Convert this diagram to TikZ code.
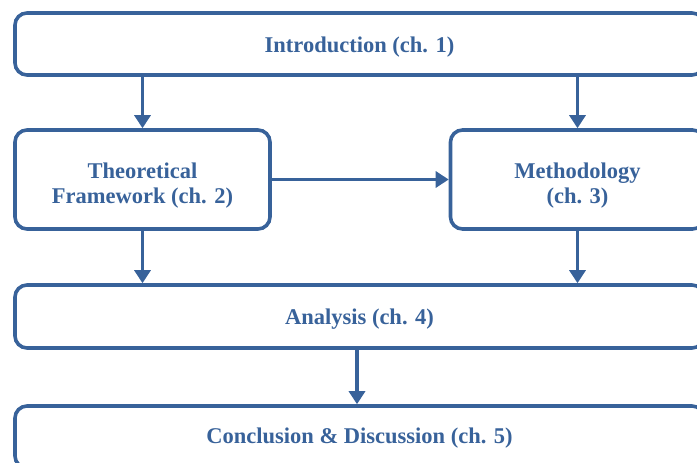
\documentclass[tikz,border=0pt]{standalone}
\usepackage{fontspec}
\setmainfont{Liberation Serif}
\usetikzlibrary{arrows.meta}
\definecolor{wblue}{HTML}{38629A}
\tikzset{
  box/.style={draw=wblue, line width=3.6pt, rounded corners=12pt, inner sep=0pt},
  boxtext/.style={text=wblue, font=\fontsize{22.5pt}{25pt}\selectfont\bfseries, align=center, inner sep=0pt},
  arr/.style={draw=wblue, line width=3.6pt, -{Triangle[length=13pt,width=16pt]}}
}
\begin{document}
\begin{tikzpicture}[x=1pt,y=-1pt]
\useasboundingbox (0,0) rectangle (697,463);
\node[box, minimum width=689pt, minimum height=62pt] (intro) at (359.5,44) {};
\node[box, minimum width=255pt, minimum height=99pt] (theo) at (142.5,179.5) {};
\node[box, minimum width=254pt, minimum height=99pt] (meth) at (577.5,179.5) {};
\node[box, minimum width=689pt, minimum height=63pt] (ana) at (359.5,316.5) {};
\node[box, minimum width=689pt, minimum height=62pt] (conc) at (359.5,437) {};
\node[boxtext] (introtext) at ([yshift=-3pt]intro.center) {Introduction (ch. 1)};
\node[boxtext] (theotext) at ([yshift=-6pt]theo.center) {Theoretical\\Framework (ch. 2)};
\node[boxtext] (methtext) at ([yshift=-6pt]meth.center) {Methodology\\(ch. 3)};
\node[boxtext] (anatext) at ([yshift=-3pt]ana.center) {Analysis (ch. 4)};
\node[boxtext] (conctext) at ([yshift=-1pt]conc.center) {Conclusion \& Discussion (ch. 5)};
\draw[arr] (intro.south -| theo.north) -- (theo.north);
\draw[arr] (intro.south -| meth.north) -- (meth.north);
\draw[arr] (theo.east) -- (meth.west);
\draw[arr] (theo.south) -- (theo.south |- ana.north);
\draw[arr] (meth.south) -- (meth.south |- ana.north);
\draw[arr] ([xshift=-2.5pt]ana.south) -- ([xshift=-2.5pt]conc.north);
\end{tikzpicture}
\end{document}
